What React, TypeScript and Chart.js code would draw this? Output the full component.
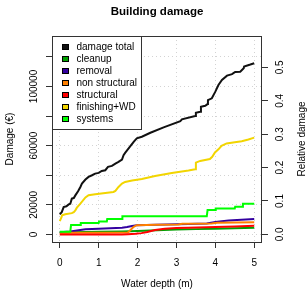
import React, { useEffect, useRef } from 'react';
import { Chart, registerables } from 'chart.js';

Chart.register(...registerables);

// ---------- data ----------
const chartTitle = 'Building damage';
const xTitle = 'Water depth (m)';
const yTitle = 'Damage (€)';
const y2Title = 'Relative damage';

const depthTicks = [0, 1, 2, 3, 4, 5];
const damageTicks = [0, 20000, 40000, 60000, 80000, 100000, 120000];
const damageTickLabels = ['0', '20000', '', '60000', '', '100000', ''];
const relTicks = [0, 0.1, 0.2, 0.3, 0.4, 0.5];
const relTickLabels = ['0.0', '0.1', '0.2', '0.3', '0.4', '0.5'];

const seriesNames = ['damage total', 'cleanup', 'removal', 'non structural', 'structural', 'finishing+WD', 'systems'];
const seriesColors = ['#111111', '#00a000', '#3300a0', '#ff8000', '#ff0000', '#f2d500', '#00ff00'];

const totalDepth = [0, 0.05, 0.1, 0.17, 0.23, 0.27, 0.31, 0.36, 0.4, 0.47, 0.53, 0.57, 0.66, 0.74, 0.83, 0.91, 1.0, 1.08, 1.17, 1.24, 1.34, 1.43, 1.51, 1.6, 1.64, 1.68, 1.77, 1.9, 1.98, 2.11, 2.33, 2.67, 3.1, 3.14, 3.48, 3.5, 3.61, 3.63, 3.74, 3.8, 3.81, 3.91, 4.0, 4.08, 4.17, 4.3, 4.43, 4.51, 4.64, 4.73, 4.74, 4.9, 5.0];
const totalValue = [13600, 15100, 18500, 19000, 20300, 20800, 24200, 24600, 26400, 29200, 32100, 34400, 37100, 38900, 40000, 41100, 41600, 42900, 43400, 45700, 46300, 47900, 49000, 50600, 53600, 55100, 58100, 62600, 64900, 66000, 68700, 72400, 76600, 77800, 80000, 82200, 82900, 86300, 87000, 88100, 90800, 92000, 96500, 101000, 104400, 107300, 108300, 109800, 110000, 112300, 113500, 114800, 115700];

const cleanupDepth = [0, 0.3, 1.0, 1.6, 2.0, 2.5, 3.0, 3.5, 4.0, 4.5, 5.0];
const cleanupValue = [1300, 1500, 1800, 2000, 2300, 2800, 3300, 3600, 3900, 4200, 4500];

const removalDepth = [0, 0.27, 0.53, 0.66, 1.0, 1.6, 1.73, 1.86, 1.98, 2.46, 3.31, 3.78, 4.0, 4.34, 5.0];
const removalValue = [1500, 2000, 3000, 3500, 3800, 4600, 5000, 5700, 6300, 6500, 7000, 7400, 8500, 9500, 10400];

const nonStructDepth = [0, 0.3, 1.0, 1.75, 1.8, 1.9, 1.98, 2.5, 3.05, 3.15, 3.9, 4.05, 5.0];
const nonStructValue = [700, 1100, 1200, 1300, 2500, 5200, 6300, 6500, 6700, 7200, 7400, 7900, 8200];

const structDepth = [0, 1.6, 1.75, 1.95, 2.1, 2.25, 2.45, 2.7, 3.0, 3.3, 4.0, 4.5, 5.0];
const structValue = [0, 0, 200, 400, 900, 1700, 3000, 3800, 4300, 4600, 5000, 5400, 5900];

const finishDepth = [0, 0.04, 0.06, 0.14, 0.31, 0.36, 0.4, 0.44, 0.53, 0.66, 0.74, 0.91, 1.17, 1.38, 1.43, 1.51, 1.6, 1.68, 1.86, 2.11, 2.45, 2.88, 3.31, 3.48, 3.5, 3.61, 3.86, 3.92, 3.99, 4.08, 4.16, 4.29, 4.5, 4.68, 4.85, 5.0];
const finishValue = [9000, 11300, 12900, 13600, 14400, 15100, 16300, 18100, 20800, 25000, 26500, 27200, 28000, 28700, 29400, 32100, 34400, 35500, 36500, 37500, 39500, 41500, 43200, 44000, 48500, 49700, 51000, 52500, 55400, 57500, 59900, 61500, 62300, 63000, 64200, 65400];

const systemsDepth = [0, 0.27, 0.29, 0.53, 0.54, 1.0, 1.01, 1.21, 1.22, 1.6, 1.61, 3.78, 3.8, 4.0, 4.01, 4.5, 4.51, 4.7, 4.71, 5.0];
const systemsValue = [1800, 1800, 6400, 6400, 7700, 7700, 8800, 8800, 10500, 10500, 12300, 12300, 16500, 16500, 17600, 17600, 18700, 18700, 20700, 20700];

const seriesDepths = [totalDepth, cleanupDepth, removalDepth, nonStructDepth, structDepth, finishDepth, systemsDepth];
const seriesValues = [totalValue, cleanupValue, removalValue, nonStructValue, structValue, finishValue, systemsValue];

// ---------- style ----------
const FONT = '"Liberation Sans", Arial, Helvetica, sans-serif';
const W = 307;
const H = 292;

const decorPlugin = {
  id: 'decor',
  afterDraw(chart: any) {
    const { ctx, chartArea: a, scales } = chart;
    ctx.save();
    // plot frame
    ctx.strokeStyle = '#333333';
    ctx.lineWidth = 1;
    ctx.strokeRect(a.left + 0.5, a.top + 0.5, a.right - a.left - 1, a.bottom - a.top);

    // rotated y tick labels
    ctx.fillStyle = '#000000';
    ctx.font = `10px ${FONT}`;
    ctx.textAlign = 'center';
    ctx.textBaseline = 'middle';
    damageTicks.forEach((v, i) => {
      const lab = damageTickLabels[i];
      if (!lab) return;
      const y = scales.y.getPixelForValue(v);
      ctx.save();
      ctx.translate(a.left - 18, y);
      ctx.rotate(-Math.PI / 2);
      ctx.fillText(lab, 0, 0);
      ctx.restore();
    });
    relTicks.forEach((v, i) => {
      const y = scales.y2.getPixelForValue(v);
      ctx.save();
      ctx.translate(a.right + 18, y);
      ctx.rotate(-Math.PI / 2);
      ctx.fillText(relTickLabels[i], 0, 0);
      ctx.restore();
    });
    // right axis title
    ctx.save();
    ctx.translate(a.right + 40, (a.top + a.bottom) / 2);
    ctx.rotate(-Math.PI / 2);
    ctx.fillText(y2Title, 0, 0);
    ctx.restore();

    // legend
    const lx = a.left;
    const ly = a.top;
    const lw = 89;
    const lh = 93;
    ctx.fillStyle = '#ffffff';
    ctx.fillRect(lx, ly, lw, lh);
    ctx.strokeStyle = '#333333';
    ctx.strokeRect(lx + 0.5, ly + 0.5, lw, lh);
    ctx.textAlign = 'left';
    chart.data.datasets.forEach((ds: any, i: number) => {
      const cy = Math.round(ly + 10.7 + 12 * i);
      ctx.fillStyle = ds.borderColor;
      ctx.fillRect(lx + 10.5, cy - 2.5, 6, 5);
      ctx.strokeStyle = '#000000';
      ctx.strokeRect(lx + 10.5, cy - 2.5, 6, 5);
      ctx.fillStyle = '#000000';
      ctx.fillText(ds.label, lx + 24.5, cy + 0.5);
    });
    ctx.restore();
  },
};

export default function App() {
  const ref = useRef<HTMLCanvasElement | null>(null);

  useEffect(() => {
    if (!ref.current) return;
    const datasets = seriesNames.map((name, i) => ({
      label: name,
      data: seriesDepths[i].map((d, j) => ({ x: d, y: seriesValues[i][j] })),
      borderColor: seriesColors[i],
      backgroundColor: seriesColors[i],
      borderWidth: 2,
      pointRadius: 0,
      tension: 0,
      fill: false,
      yAxisID: 'y',
      order: seriesNames.length - 1 - i,
    }));

    const chart = new Chart(ref.current, {
      type: 'line',
      data: { datasets },
      options: {
        animation: false,
        responsive: false,
        devicePixelRatio: 1,
        layout: { padding: 0 },
        plugins: {
          legend: { display: false },
          tooltip: { enabled: false },
          title: {
            display: true,
            text: chartTitle,
            fullSize: false,
            color: '#000000',
            font: { family: FONT, size: 11.5, weight: 'bold', lineHeight: 1.2 },
            padding: { top: 5, bottom: 17.2 },
          },
        },
        scales: {
          x: {
            type: 'linear',
            min: -0.2,
            max: 5.2,
            afterBuildTicks: (s: any) => { s.ticks = depthTicks.map((v) => ({ value: v })); },
            afterFit: (s: any) => { s.height = 50; },
            ticks: {
              color: '#000000',
              font: { family: FONT, size: 10 },
              padding: 9,
              maxRotation: 0,
              autoSkip: false,
              callback: (v: any) => String(v),
            },
            grid: { color: '#d3d3d3', lineWidth: 1, drawTicks: true, tickLength: 6, tickColor: '#333333' },
            border: { display: false, dash: [1, 3] },
            title: { display: true, text: xTitle, color: '#000000', font: { family: FONT, size: 10 }, padding: { top: 0, bottom: 2 } },
          },
          y: {
            type: 'linear',
            position: 'left',
            min: -5100,
            max: 134100,
            afterBuildTicks: (s: any) => { s.ticks = damageTicks.map((v) => ({ value: v })); },
            afterFit: (s: any) => { s.width = 52; },
            ticks: { display: false },
            grid: { color: '#d3d3d3', lineWidth: 1, drawTicks: true, tickLength: 6, tickColor: '#333333' },
            border: { display: false, dash: [1, 3] },
            title: { display: true, text: yTitle, color: '#000000', font: { family: FONT, size: 10 }, padding: { top: 4.5, bottom: 0 } },
          },
          y2: {
            type: 'linear',
            position: 'right',
            min: -0.0228,
            max: 0.594,
            afterBuildTicks: (s: any) => { s.ticks = relTicks.map((v) => ({ value: v })); },
            afterFit: (s: any) => { s.width = 45; },
            ticks: { display: false },
            grid: { drawOnChartArea: false, drawTicks: true, tickLength: 6, tickColor: '#333333' },
            border: { display: false },
          },
        },
      },
      plugins: [decorPlugin],
    } as any);

    return () => chart.destroy();
  }, []);

  return (
    <div style={{ position: 'fixed', left: 0, top: 0, width: W, height: H, background: '#ffffff' }}>
      <canvas ref={ref} width={W} height={H} style={{ display: 'block', width: W, height: H }} />
    </div>
  );
}
